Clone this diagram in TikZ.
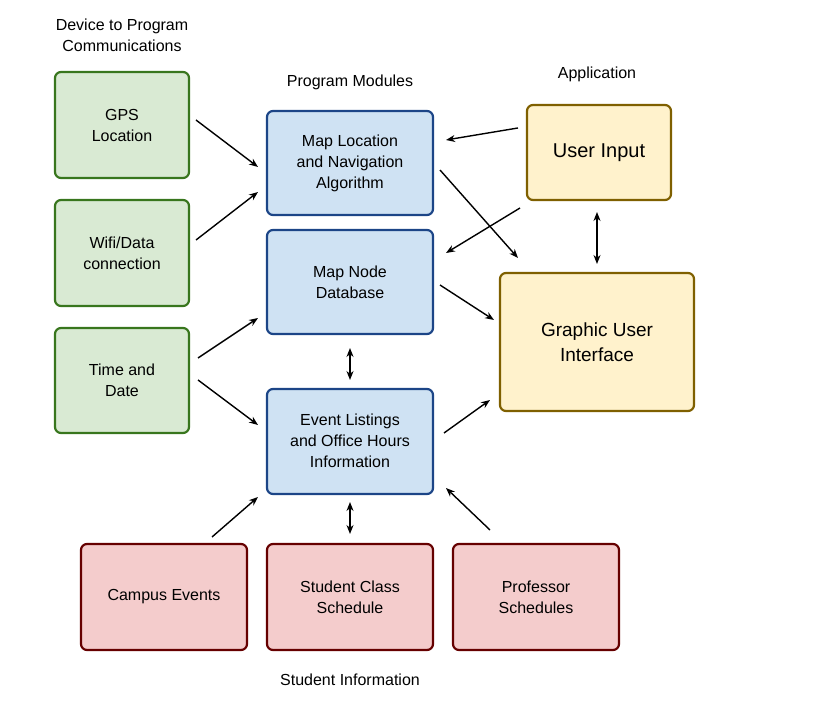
\documentclass[tikz,border=0pt]{standalone}
\usepackage{fontspec}
\setmainfont{Liberation Sans}
\usepackage{tikz}
\usetikzlibrary{arrows.meta}
\definecolor{gfill}{HTML}{D9EAD3}\definecolor{gline}{HTML}{38761D}
\definecolor{bfill}{HTML}{CFE2F3}\definecolor{bline}{HTML}{1C4587}
\definecolor{yfill}{HTML}{FFF2CC}\definecolor{yline}{HTML}{7F6000}
\definecolor{rfill}{HTML}{F4CCCC}\definecolor{rline}{HTML}{660000}
\tikzset{box/.style={draw,line width=2.2pt,rounded corners=6pt,align=center,font=\fontsize{16}{21}\selectfont},
  green/.style={box,fill=gfill,draw=gline},
  blue/.style={box,fill=bfill,draw=bline},
  yellow/.style={box,fill=yfill,draw=yline},
  red/.style={box,fill=rfill,draw=rline},
  lab/.style={font=\fontsize{16}{21}\selectfont,align=center},
  arr/.style={-{Stealth[length=9pt,width=7pt]},line width=1.4pt},
  darr/.style={{Stealth[length=9pt,width=7pt]}-{Stealth[length=9pt,width=7pt]},line width=1.4pt}}
\begin{document}
\begin{tikzpicture}[x=1pt,y=-1pt]
\useasboundingbox (0,0) rectangle (817,719);
%Boxes
\draw[green] (55,72) rectangle (189,178);
\draw[green] (55,200) rectangle (189,306);
\draw[green] (55,328) rectangle (189,433);
\draw[blue] (267,111) rectangle (433,215);
\draw[blue] (267,230) rectangle (433,334);
\draw[blue] (267,389) rectangle (433,494);
\draw[yellow] (527,105) rectangle (671,200);
\draw[yellow] (500,273) rectangle (694,411);
\draw[red] (81,544) rectangle (247,650);
\draw[red] (267,544) rectangle (433,650);
\draw[red] (453,544) rectangle (619,650);
%Text
\node[lab] (gps) at (122,125) {GPS\\Location};
\node[lab] (wifi) at (122,253) {Wifi/Data\\connection};
\node[lab] (time) at (122,380) {Time and\\Date};
\node[lab] (mapnav) at (350,163) {Map Location\\and Navigation\\Algorithm};
\node[lab] (mapdb) at (350,282) {Map Node\\Database};
\node[lab] (events) at (350,441) {Event Listings\\and Office Hours\\Information};
\node[lab,font=\fontsize{20}{25}\selectfont] (input) at (599,153) {User Input};
\node[lab,font=\fontsize{19}{25}\selectfont] (gui) at (597,342) {Graphic User\\Interface};
\node[lab] (campus) at (164,597) {Campus Events};
\node[lab] (classes) at (350,597) {Student Class\\Schedule};
\node[lab] (prof) at (536,597) {Professor\\Schedules};
\node[lab] (device) at (122,35) {Device to Program\\Communications};
\node[lab] (modules) at (350,82) {Program Modules};
\node[lab] (app) at (597,74) {Application};
\node[lab] (student) at (350,680) {Student Information};
%Arrows
\draw[arr] (196,120) -- (258,167);
\draw[arr] (196,240) -- (258,192);
\draw[arr] (198,358) -- (258,318);
\draw[arr] (198,380) -- (258,425);
\draw[arr] (518,128) -- (446,140);
\draw[arr] (520,208) -- (446,253);
\draw[arr] (440,170) -- (518,258);
\draw[arr] (440,285) -- (494,320);
\draw[arr] (444,433) -- (490,400);
\draw[arr] (212,537) -- (258,497);
\draw[arr] (490,530) -- (446,488);
\draw[darr] (597,212) -- (597,264);
\draw[darr] (350,348) -- (350,380);
\draw[darr] (350,502) -- (350,534);
\end{tikzpicture}
\end{document}
